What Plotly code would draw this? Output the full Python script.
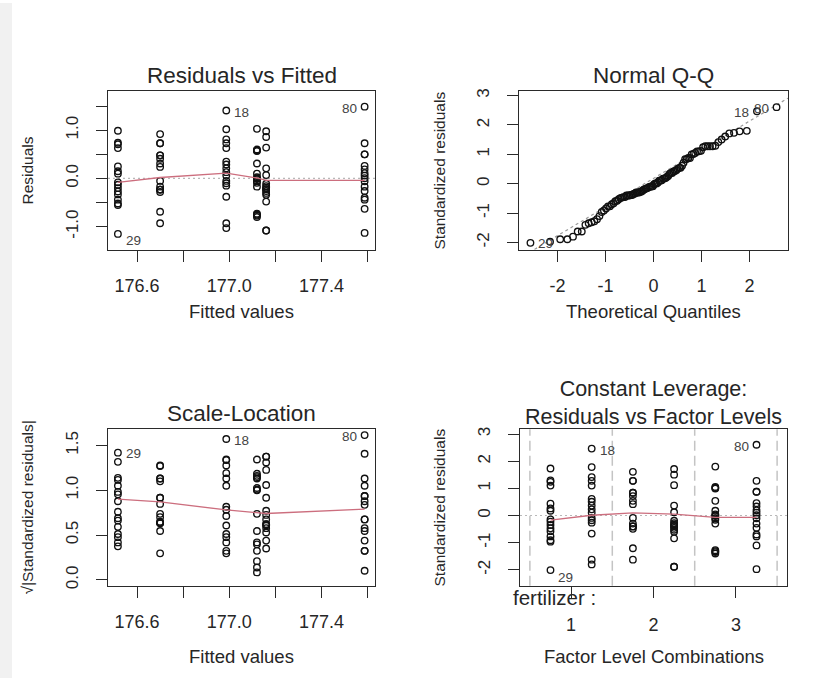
import numpy as np
import plotly.graph_objects as go
from statistics import NormalDist

W, H = 819, 681
FONT = "Liberation Sans, Arial, sans-serif"
INK = "#262626"

# Fitted value of each fertilizer x density cell (order: f1/d1, f1/d2, f2/d1, f2/d2, f3/d1, f3/d2)
fitted_levels = [176.517, 176.987, 176.700, 177.160, 177.120, 177.587]
# Position of each cell on the factor-level axis
factor_positions = [0.75, 1.25, 1.75, 2.25, 2.75, 3.25]

# Raw residuals of the 16 plots in each cell
resid_f1_d1 = [0.99, 0.74, 0.71, 0.63, 0.25, 0.15, 0.10, -0.08, -0.13, -0.20, -0.27, -0.33, -0.44, -0.52, -0.55, -1.15]
resid_f1_d2 = [1.41, 1.02, 0.81, 0.73, 0.63, 0.35, 0.29, 0.21, 0.13, 0.06, -0.05, -0.10, -0.15, -0.38, -0.93, -1.03]
resid_f2_d1 = [0.92, 0.73, 0.73, 0.48, 0.48, 0.41, 0.31, 0.24, -0.05, -0.17, -0.23, -0.23, -0.23, -0.28, -0.69, -0.93]
resid_f2_d2 = [0.98, 0.86, 0.64, 0.21, 0.07, -0.11, -0.16, -0.19, -0.22, -0.22, -0.26, -0.30, -0.34, -0.48, -1.08, -1.08]
resid_f3_d1 = [1.03, 0.60, 0.58, 0.57, 0.31, 0.10, 0.025, 0.004, -0.011, -0.06, -0.09, -0.17, -0.73, -0.75, -0.77, -0.80]
resid_f3_d2 = [1.49, 0.73, 0.50, 0.50, 0.26, 0.19, 0.11, 0.06, 0.006, -0.06, -0.17, -0.26, -0.40, -0.44, -0.63, -1.13]

# Case numbers of the three most extreme observations and where they sit (cell, index)
labelled_cases = [29, 18, 80]
labelled_at = [(0, 15), (1, 0), (5, 0)]

# Smoother traces
smooth_fitted = [176.517, 176.700, 176.987, 177.120, 177.160, 177.587]
smooth_resid = [-0.08, 0.02, 0.11, 0.01, -0.04, -0.04]
smooth_sqrt_std = [0.90, 0.87, 0.78, 0.75, 0.74, 0.79]
smooth_std_factor = [-0.17, 0.01, 0.10, 0.05, -0.07, -0.07]

n_params = 4  # intercept + 2 fertilizer contrasts + 1 density contrast

# ---- derived diagnostics -------------------------------------------------
groups = [resid_f1_d1, resid_f1_d2, resid_f2_d1, resid_f2_d2, resid_f3_d1, resid_f3_d2]
resid = np.concatenate([np.asarray(g, float) for g in groups])
fitted = np.concatenate([[f] * len(g) for f, g in zip(fitted_levels, groups)])
facpos = np.concatenate([[p] * len(g) for p, g in zip(factor_positions, groups)])
offsets = np.cumsum([0] + [len(g) for g in groups])
n = resid.size
lev = n_params / n
sigma = np.sqrt((resid ** 2).sum() / (n - n_params))
std_resid = resid / (sigma * np.sqrt(1 - lev))
sqrt_abs = np.sqrt(np.abs(std_resid))

nd = NormalDist()
order = np.argsort(std_resid)
theo = np.array([nd.inv_cdf((i + 0.5) / n) for i in range(n)])
theo_of = np.empty(n)
theo_of[order] = theo
q1, q3 = np.quantile(std_resid, [0.25, 0.75])
t1, t3 = nd.inv_cdf(0.25), nd.inv_cdf(0.75)
qq_slope = (q3 - q1) / (t3 - t1)
qq_int = q1 - qq_slope * t1

lab_idx = [offsets[g] + i for g, i in labelled_at]


def px(x):
    return x / W


def py(y):
    return 1 - y / H


# plot-box pixel geometry (left, right, top, bottom)
boxes = {
    1: (108, 375, 89, 249),
    2: (519, 788, 89, 249),
    3: (108, 375, 430, 588),
    4: (520, 787, 430, 588),
}

fig = go.Figure()
pt = dict(mode="markers", showlegend=False, hoverinfo="skip",
          marker=dict(symbol="circle-open", size=6.5, color="#111111", line=dict(width=1.35)))
smooth_style = dict(mode="lines", showlegend=False, hoverinfo="skip",
                    line=dict(color="#CC6E7E", width=1.3))

# Residuals vs Fitted
fig.add_trace(go.Scatter(x=fitted, y=resid, xaxis="x", yaxis="y", **pt))
fig.add_trace(go.Scatter(x=smooth_fitted, y=smooth_resid, xaxis="x", yaxis="y", **smooth_style))

# Normal Q-Q
x2r = [-2.8, 2.8]
fig.add_trace(go.Scatter(x=x2r, y=[qq_int + qq_slope * v for v in x2r], xaxis="x2", yaxis="y2",
                         mode="lines", showlegend=False, hoverinfo="skip",
                         line=dict(color="#9a9a9a", width=1.2, dash="3px,3px")))
fig.add_trace(go.Scatter(x=theo, y=std_resid[order], xaxis="x2", yaxis="y2", **pt))

# Scale-Location
fig.add_trace(go.Scatter(x=fitted, y=sqrt_abs, xaxis="x3", yaxis="y3", **pt))
fig.add_trace(go.Scatter(x=smooth_fitted, y=smooth_sqrt_std, xaxis="x3", yaxis="y3", **smooth_style))

# Residuals vs Factor Levels
fig.add_trace(go.Scatter(x=facpos, y=std_resid, xaxis="x4", yaxis="y4", **pt))
fig.add_trace(go.Scatter(x=factor_positions, y=smooth_std_factor, xaxis="x4", yaxis="y4", **smooth_style))

shapes = []
# reference lines at zero
for ax in ("", "4"):
    shapes.append(dict(type="line", xref=f"x{ax} domain", yref=f"y{ax}", x0=0, x1=1, y0=0, y1=0,
                       line=dict(color="#b8b8b8", width=1.2, dash="2px,3px"), layer="below"))
# boundaries between factor levels
for b in (0.5, 1.5, 2.5, 3.5):
    shapes.append(dict(type="line", xref="x4", yref="y4 domain", x0=b, x1=b, y0=0, y1=1,
                       line=dict(color="#c4c4c4", width=1.5, dash="10px,5px"), layer="below"))
# light frame strip on the left edge
shapes.append(dict(type="rect", xref="paper", yref="paper", x0=0, x1=px(12), y0=0, y1=1,
                   fillcolor="#f1f1f1", line=dict(width=0), layer="below"))


def axis(dom, rng, vals, texts, anchor, size, rotate=False, standoff=8):
    d = dict(domain=dom, range=rng, anchor=anchor, tickmode="array", tickvals=vals, ticktext=texts,
             showline=True, mirror=True, linecolor="#2a2a2a", linewidth=1.4,
             ticks="outside", ticklen=11, tickwidth=1.3, tickcolor="#2a2a2a",
             showgrid=False, zeroline=False, fixedrange=True,
             tickfont=dict(family=FONT, size=size, color=INK), ticklabelstandoff=standoff)
    if rotate:
        d["tickangle"] = -90
    return d


fit_ticks = [176.6, 176.8, 177.0, 177.2, 177.4, 177.6]
fit_text = ["176.6", "", "177.0", "", "177.4", ""]
std_ticks = [-2, -1, 0, 1, 2, 3]
std_text = ["-2", "-1", "0", "1", "2", "3"]

b1, b2, b3, b4 = boxes[1], boxes[2], boxes[3], boxes[4]
layout_axes = {
    "xaxis": axis([px(b1[0]), px(b1[1])], [176.474, 177.632], fit_ticks, fit_text, "y", 18),
    "yaxis": axis([py(b1[3]), py(b1[2])], [-1.48, 1.81], [-1, -0.5, 0, 0.5, 1, 1.5],
                  ["-1.0", "", "0.0", "", "1.0", ""], "x", 17, True, 11),
    "xaxis2": axis([px(b2[0]), px(b2[1])], x2r, [-2, -1, 0, 1, 2], ["-2", "-1", "0", "1", "2"], "y2", 18),
    "yaxis2": axis([py(b2[3]), py(b2[2])], [-2.25, 3.15], std_ticks, std_text, "x2", 17, True, 11),
    "xaxis3": axis([px(b3[0]), px(b3[1])], [176.474, 177.632], fit_ticks, fit_text, "y3", 18),
    "yaxis3": axis([py(b3[3]), py(b3[2])], [-0.066, 1.68], [0, 0.5, 1, 1.5],
                   ["0.0", "0.5", "1.0", "1.5"], "x3", 17, True, 11),
    "xaxis4": axis([px(b4[0]), px(b4[1])], [0.38, 3.62], [1, 2, 3], ["1", "2", "3"], "y4", 18, False, 11),
    "yaxis4": axis([py(b4[3]), py(b4[2])], [-2.59, 3.18], std_ticks, std_text, "x4", 17, True, 11),
}

ann = []


def text(x, y, s, size, angle=0, xanchor="center", color=INK):
    ann.append(dict(x=px(x), y=py(y), xref="paper", yref="paper", text=s, showarrow=False,
                    textangle=angle, xanchor=xanchor, yanchor="middle",
                    font=dict(family=FONT, size=size, color=color)))


# panel titles
text(241.5, 73, "Residuals vs Fitted", 22.5)
text(653.5, 73, "Normal Q-Q", 22.5)
text(241.5, 414, "Scale-Location", 22.5)
text(653.5, 404, "Constant Leverage:<br>Residuals vs Factor Levels", 21.5)
# axis titles
text(241.5, 311, "Fitted values", 18.5)
text(653.5, 311, "Theoretical Quantiles", 18.5)
text(241.5, 659, "Fitted values", 18.5)
text(653.5, 659, "Factor Level Combinations", 18.5)
text(28, 169, "Residuals", 15.5, -90)
text(440, 169, "Standardized residuals", 15.5, -90)
text(28, 509, "√|Standardized residuals|", 15.5, -90)
text(440, 509, "Standardized residuals", 15.5, -90)
text(511, 600, "fertilizer :", 20.5, xanchor="left")


def case_label(xref, yref, x, y, s, right, dy=-2):
    ann.append(dict(x=x, y=y, xref=xref, yref=yref, text=s, showarrow=False,
                    xanchor="left" if right else "right", yanchor="middle",
                    xshift=6 if right else -6, yshift=dy,
                    font=dict(family=FONT, size=13.5, color="#444")))


mid_fit = (min(fitted_levels) + max(fitted_levels)) / 2
for case, i in zip(labelled_cases, lab_idx):
    right = fitted[i] <= mid_fit
    drop = -7 if case == 29 else -2
    case_label("x", "y", fitted[i], resid[i], str(case), right, drop)
    case_label("x3", "y3", fitted[i], sqrt_abs[i], str(case), right, -1)
    case_label("x2", "y2", theo_of[i], std_resid[i], str(case), theo_of[i] <= 0, -1)
    case_label("x4", "y4", facpos[i], std_resid[i], str(case), facpos[i] <= 2, drop)

fig.update_layout(
    width=W, height=H, margin=dict(l=0, r=0, t=0, b=0),
    paper_bgcolor="white", plot_bgcolor="white",
    shapes=shapes, annotations=ann, showlegend=False,
    **layout_axes,
)

fig.write_html("out.html")
